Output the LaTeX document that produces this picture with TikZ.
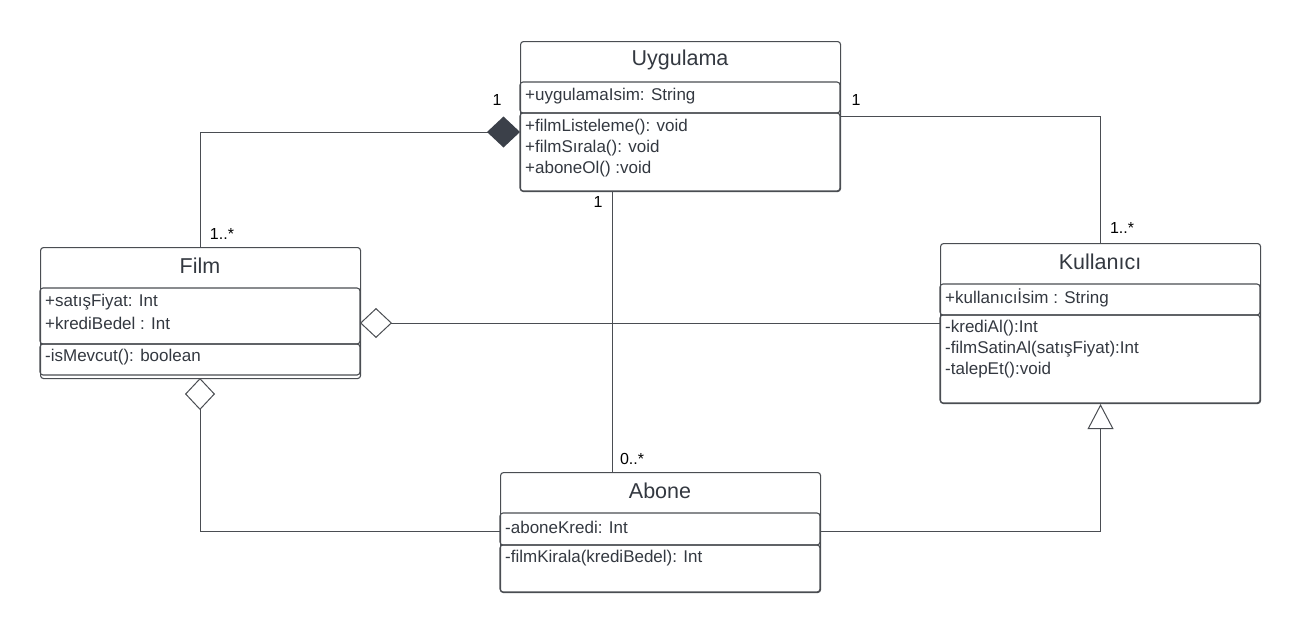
\documentclass[tikz,border=0pt]{standalone}
\usepackage{fontspec}
\setmainfont{Liberation Sans}
\usetikzlibrary{arrows.meta}
\definecolor{ln}{HTML}{4A4D52}
\definecolor{tx}{HTML}{333840}
\definecolor{dk}{HTML}{3B4049}
\begin{document}
\begin{tikzpicture}[x=1pt,y=-1pt,
  box/.style={draw=ln,line width=1.1pt,rounded corners=3pt,anchor=north west,inner sep=0pt},
  comp/.style={draw=ln,line width=1.1pt,rounded corners=3pt},
  ttl/.style={font=\fontsize{21.5}{24}\selectfont,text=tx},
  mem/.style={font=\fontsize{17}{18}\selectfont,text=tx,anchor=west,inner sep=0pt},
  lab/.style={font=\fontsize{16}{18}\selectfont,text=black,inner sep=0pt},
  con/.style={draw=ln,line width=0.9pt}]
\useasboundingbox (0,0) rectangle (1300,632);

% ---- Uygulama
\node[box,minimum width=320pt,minimum height=150pt] (U) at (520,41) {};
\draw[comp] (520,82) rectangle (840,113);
\draw[comp] (520,113) rectangle (840,191);
\node[ttl] (Ut) at (680,60) {Uygulama};
\node[mem] (U1) at (525,96) {+uygulamaIsim: String};
\node[mem] (U2) at (525,127) {+filmListeleme(): void};
\node[mem] (U3) at (525,148) {+filmSırala(): void};
\node[mem] (U4) at (525,169) {+aboneOl() :void};

% ---- Film
\node[box,minimum width=320pt,minimum height=131pt] (F) at (40,247) {};
\draw[comp] (40,288) rectangle (360,344);
\draw[comp] (40,344) rectangle (360,375);
\node[ttl] (Ft) at (200,266) {Film};
\node[mem] (F1) at (45,302) {+satışFiyat: Int};
\node[mem] (F2) at (45,323) {+krediBedel : Int};
\node[mem] (F3) at (45,357) {-isMevcut(): boolean};

% ---- Kullanici
\node[box,minimum width=320pt,minimum height=160pt] (K) at (940,243) {};
\draw[comp] (940,284) rectangle (1260,315);
\draw[comp] (940,315) rectangle (1260,403);
\node[ttl] (Kt) at (1100,262) {Kullanıcı};
\node[mem] (K1) at (945,298) {+kullanıcıİsim : String};
\node[mem] (K2) at (945,328) {-krediAl():Int};
\node[mem] (K3) at (945,349) {-filmSatinAl(satışFiyat):Int};
\node[mem] (K4) at (945,370) {-talepEt():void};

% ---- Abone
\node[box,minimum width=320pt,minimum height=120pt] (A) at (500,472) {};
\draw[comp] (500,513) rectangle (820,545);
\draw[comp] (500,545) rectangle (820,592);
\node[ttl] (At) at (660,491) {Abone};
\node[mem] (A1) at (505,527) {-aboneKredi: Int};
\node[mem] (A2) at (505,558) {-filmKirala(krediBedel): Int};

% ---- connector end points
\coordinate (Uw) at (520,132);
\coordinate (Ue) at (840,116);
\coordinate (Ub) at (612,191);
\coordinate (At2) at (612,472);
\coordinate (Fe) at (360,323);
\coordinate (Kw) at (940,323);
\coordinate (Fb) at (200,378);
\coordinate (Aw) at (500,531);
\coordinate (Ae) at (820,531);

% Film -> Uygulama composition
\draw[con,-{Diamond[length=33pt,width=31pt,fill=dk,color=dk,line width=0pt]}] (F.north) |- (Uw);
% Uygulama -- Kullanici
\draw[con] (Ue) -| (K.north);
% Uygulama -- Abone
\draw[con] (Ub) -- (At2);
% Kullanici -> Film aggregation
\draw[con,-{Diamond[open,length=32pt,width=30pt,line width=1pt]}] (Kw) -- (Fe);
% Abone -> Film aggregation
\draw[con,-{Diamond[open,length=32pt,width=30pt,line width=1pt]}] (Aw) -| (Fb);
% Abone -> Kullanici generalization
\draw[con,-{Triangle[open,length=25pt,width=26pt,line width=1pt]}] (Ae) -| (K.south);

% multiplicities
\node[lab] (m1) at (497,100) {1};
\node[lab] (m2) at (222,234) {1..*};
\node[lab] (m3) at (856,100) {1};
\node[lab] (m4) at (1122,228) {1..*};
\node[lab] (m5) at (598,202) {1};
\node[lab] (m6) at (632,459) {0..*};
\end{tikzpicture}
\end{document}
